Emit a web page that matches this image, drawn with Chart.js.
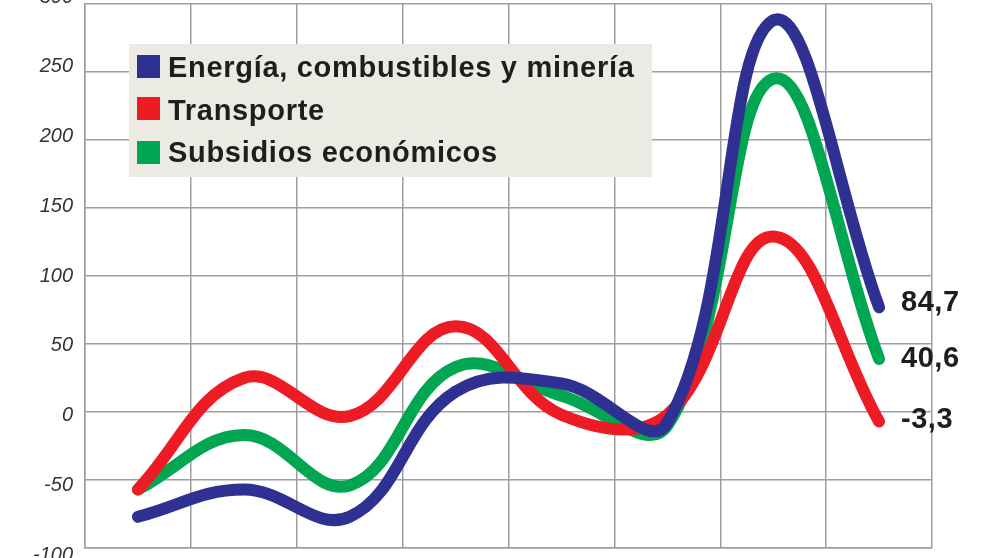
<!DOCTYPE html>
<html><head><meta charset="utf-8">
<script src="https://cdn.jsdelivr.net/npm/chart.js@4.4.1/dist/chart.umd.min.js"></script>
<style>html,body{margin:0;padding:0;background:#fff;overflow:hidden}#wrap{position:relative;width:992px;height:558px}</style>
</head><body><div id="wrap"><canvas id="c" width="992" height="558"></canvas></div>
<script>
const categories = ['1','2','3','4','5','6','7','8'];
const seriesNames = ['Energía, combustibles y minería','Transporte','Subsidios económicos'];
const seriesColors = ['#2E3192','#ED1C24','#00A651'];
const energia = [-77,-57,-77,15,21,-8,288,77];
const transporte = [-57,25,-3,63,-2,-2,129,-7];
const subsidios = [-57,-17,-54,33,12,-10,245,39];
const endLabels = ['84,7','-3,3','40,6'];
const yTickValues = [-100,-50,0,50,100,150,200,250,300];
const yMin = -100, yMax = 300, yStep = 50;

const overlay = {
  id: 'overlay',
  beforeDatasetsDraw(chart) {
    const ctx = chart.ctx;
    ctx.save();
    ctx.fillStyle = '#ECEBE3';
    ctx.fillRect(129, 44, 523, 133);
    ctx.font = 'bold 29px "Liberation Sans", Arial, sans-serif';
    try { ctx.letterSpacing = '0.7px'; } catch (e) {}
    ctx.textBaseline = 'alphabetic';
    ctx.textAlign = 'left';
    const sqTop = [55, 97, 141];
    const base = [77, 120, 162];
    [0, 1, 2].forEach((i, r) => {
      ctx.fillStyle = chart.data.datasets[i].borderColor;
      ctx.fillRect(137, sqTop[r], 23, 23);
      ctx.fillStyle = '#1e1e1e';
      ctx.fillText(chart.data.datasets[i].label, 168, base[r]);
    });
    ctx.restore();
  },
  afterDatasetsDraw(chart) {
    const ctx = chart.ctx, ys = chart.scales.y;
    ctx.save();
    ctx.font = 'bold 29px "Liberation Sans", Arial, sans-serif';
    try { ctx.letterSpacing = '0.5px'; } catch (e) {}
    ctx.fillStyle = '#1e1e1e';
    ctx.textBaseline = 'middle';
    ctx.textAlign = 'left';
    chart.data.datasets.forEach((ds, i) => {
      const meta = chart.getDatasetMeta(i);
      const pt = meta.data[meta.data.length - 1];
      const v = parseFloat(endLabels[i].replace(',', '.'));
      const ly = (pt.y + ys.getPixelForValue(v)) / 2;
      ctx.fillText(endLabels[i], pt.x + 22, ly + 1);
    });
    ctx.restore();
  }
};

const mk = (label, data, color) => ({
  label, data, borderColor: color, backgroundColor: color,
  borderWidth: 12, borderCapStyle: 'round', borderJoinStyle: 'round',
  pointRadius: 0, tension: 0.4, fill: false, yAxisID: 'y'
});

new Chart(document.getElementById('c'), {
  type: 'line',
  data: {
    labels: categories,
    datasets: [
      mk(seriesNames[0], energia, seriesColors[0]),
      mk(seriesNames[1], transporte, seriesColors[1]),
      mk(seriesNames[2], subsidios, seriesColors[2])
    ]
  },
  options: {
    responsive: false,
    animation: false,
    devicePixelRatio: 1,
    layout: { padding: { top: 4, right: 60, bottom: 10, left: 0 } },
    plugins: { legend: { display: false }, tooltip: { enabled: false } },
    scales: {
      x: {
        offset: true,
        grid: { offset: true, color: '#9e9e9e', lineWidth: 1.5, drawTicks: false },
        border: { display: true, color: '#9e9e9e', width: 1.5 },
        ticks: { display: false },
        afterFit(s) { s.height = 0; s.paddingLeft = 0; s.paddingRight = 0; }
      },
      y: {
        position: 'left', weight: 0,
        min: yMin, max: yMax,
        grid: { color: '#9e9e9e', lineWidth: 1.5, drawTicks: false },
        border: { display: true, color: '#9e9e9e', width: 1.5 },
        ticks: { stepSize: yStep, display: false },
        afterFit(s) { s.width = 0; s.paddingTop = 0; s.paddingBottom = 0; }
      },
      yl: {
        position: 'left', weight: 1,
        min: yMin + 5, max: yMax - 5,
        grid: { display: false, drawTicks: false },
        border: { display: false },
        ticks: {
          padding: 12, color: '#333', autoSkip: false,
          font: { family: '"Liberation Sans", Arial, sans-serif', size: 20, style: 'italic' }
        },
        afterBuildTicks(s) { s.ticks = yTickValues.map(v => ({ value: v })); },
        afterFit(s) { s.width = 85; s.paddingTop = 0; s.paddingBottom = 0; }
      }
    }
  },
  plugins: [overlay]
});
</script></body></html>
